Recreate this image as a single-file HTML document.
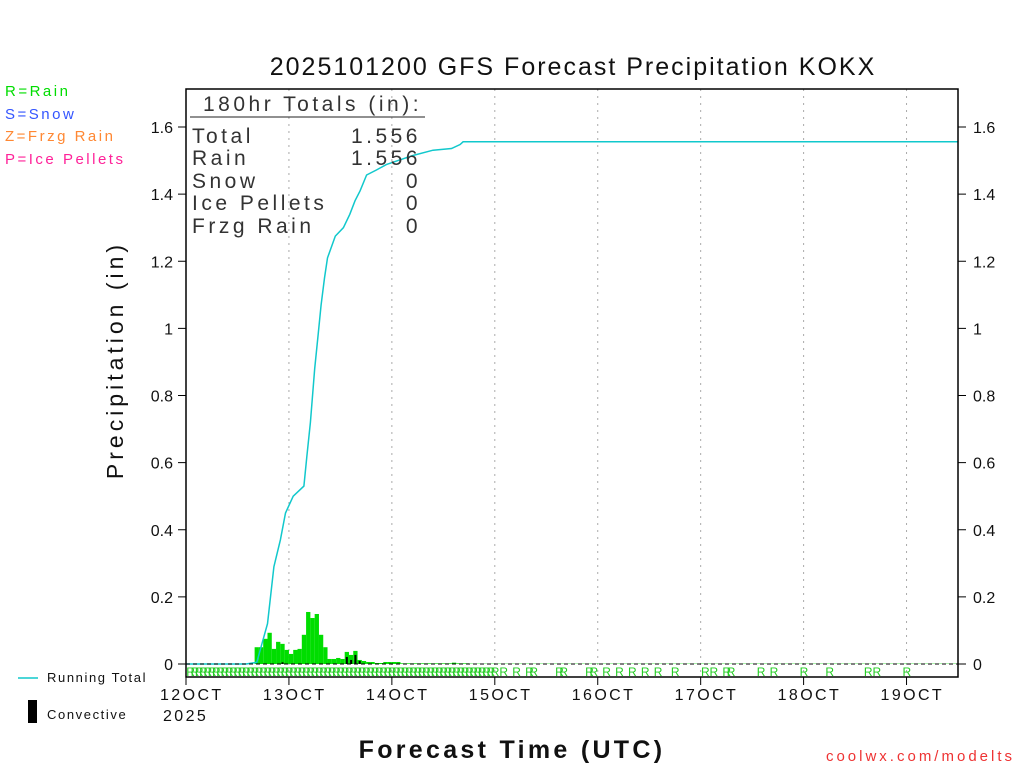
<!DOCTYPE html>
<html><head><meta charset="utf-8"><style>
body{margin:0;background:#fff;}
svg{display:block;font-family:"Liberation Sans",sans-serif;}
</style></head><body>
<svg id="chart" width="1024" height="768" viewBox="0 0 1024 768">
<text x="573" y="75" font-size="25" text-anchor="middle" fill="#111" letter-spacing="2">2025101200 GFS Forecast Precipitation KOKX</text>
<g font-size="15" letter-spacing="2.5">
<text x="5" y="96" fill="#00dd00">R=Rain</text>
<text x="5" y="119" fill="#3355ff">S=Snow</text>
<text x="5" y="141" fill="#ff8833">Z=Frzg Rain</text>
<text x="5" y="164" fill="#ff2299">P=Ice Pellets</text>
</g>
<g id="grid"></g>
<g id="bars"></g>
<g id="conv"></g>
<g id="marks"></g>
<path id="total" fill="none" stroke="#11c8cc" stroke-width="1.5"></path>
<rect x="186" y="89" width="772" height="588" fill="none" stroke="#000" stroke-width="1.5"/>
<line x1="186" y1="664" x2="958" y2="664" stroke="#000" stroke-dasharray="4,3"/>
<g font-size="21" fill="#333" letter-spacing="3.5">
<text x="203" y="111">180hr Totals (in):</text>
<line x1="190" y1="117" x2="425" y2="117" stroke="#222"/>
<text x="192" y="143">Total</text><text x="421" y="143" text-anchor="end">1.556</text>
<text x="192" y="165">Rain</text><text x="421" y="165" text-anchor="end">1.556</text>
<text x="192" y="188">Snow</text><text x="421" y="188" text-anchor="end">0</text>
<text x="192" y="210">Ice Pellets</text><text x="421" y="210" text-anchor="end">0</text>
<text x="192" y="233">Frzg Rain</text><text x="421" y="233" text-anchor="end">0</text>
</g>
<g id="yticks" font-size="16" fill="#111"></g>
<g id="xticks" font-size="16" fill="#111" letter-spacing="2.4"></g>
<text x="163" y="721" font-size="16" fill="#111" letter-spacing="2.4">2025</text>
<text transform="translate(123,360) rotate(-90)" font-size="23" text-anchor="middle" fill="#111" letter-spacing="4">Precipitation (in)</text>
<text x="512" y="758" font-size="25" text-anchor="middle" fill="#111" font-weight="bold" letter-spacing="3.3">Forecast Time (UTC)</text>
<text x="1015" y="761" font-size="15" text-anchor="end" fill="#ee3333" letter-spacing="3">coolwx.com/modelts</text>
<line x1="18" y1="678" x2="38" y2="678" stroke="#11c8cc" stroke-width="1.5"/>
<text x="47" y="682" font-size="13" fill="#111" letter-spacing="1.6">Running Total</text>
<rect x="28" y="700" width="9" height="23" fill="#000"/>
<text x="47" y="719" font-size="13" fill="#111" letter-spacing="1.6">Convective</text>
</svg>
<script>
const barHours=[17,18,19,20,21,22,23,24,25,26,27,28,29,30,31,32,33,34,35,36,37,38,39,40,41,42,43,44,45,46,47,48,49,50,51,52,53,54,55,56,57,58,59,60,61,62,63,64,65,66,67,68,69,70,71,72,73,74,75,76,77,78,79,80,81,82,83,84,85,86,87,88,89,90,91,92,93,94,95,96,99,102,105,108,111,114,117,120,123,126,129,132,135,138,141,144,147,150,153,156,159,162,165,168,171,174,177,180];
const barValues=[0.05,0.05,0.075,0.093,0.045,0.066,0.06,0.042,0.03,0.042,0.045,0.087,0.155,0.137,0.149,0.087,0.05,0.015,0.015,0.018,0.015,0.036,0.027,0.039,0.012,0.009,0.006,0.006,0.003,0.003,0.006,0.006,0.006,0.006,0.002,0.002,0.002,0.002,0.002,0.002,0.002,0.002,0.002,0.002,0.002,0.002,0.004,0.002,0.002,0.002,0.001,0.001,0.001,0.001,0.001,0.001,0.001,0.001,0.001,0.001,0.001,0.001,0.001,0.001,0.001,0.001,0.001,0.001,0.001,0.001,0.001,0.001,0.001,0.001,0.001,0.001,0.001,0.001,0.001,0.001,0.001,0.001,0.001,0.001,0.001,0.001,0.001,0.001,0.001,0.001,0.001,0.001,0.001,0.001,0.001,0.001,0.001,0.001,0.001,0.001,0.001,0.001,0.001,0.001,0.001,0.001,0.001,0.001];
const convHours=[23,38,39,40,41];
const convValues=[0.005,0.021,0.012,0.027,0.009];
const totalHours=[0,14,16.5,19,20.5,22,23.2,25,27.5,28.2,29,30,30.8,31.5,32.3,33,34.8,36.7,38.2,39.4,40.6,42.1,44.4,46.7,49.4,52.9,57.6,61.9,63.9,64.6,180];
const totalValues=[0,0,0.005,0.12,0.29,0.37,0.45,0.50,0.53,0.62,0.72,0.88,0.98,1.07,1.15,1.21,1.275,1.30,1.34,1.38,1.41,1.457,1.472,1.488,1.50,1.515,1.531,1.536,1.548,1.556,1.556];
const yTicks=[0,0.2,0.4,0.6,0.8,1,1.2,1.4,1.6];
const yTickLabels=["0","0.2","0.4","0.6","0.8","1","1.2","1.4","1.6"];
const xTickLabels=["12OCT","13OCT","14OCT","15OCT","16OCT","17OCT","18OCT","19OCT"];
const rainHours=[1,2,3,4,5,6,7,8,9,10,11,12,13,14,15,16,17,18,19,20,21,22,23,24,25,26,27,28,29,30,31,32,33,34,35,36,37,38,39,40,41,42,43,44,45,46,47,48,49,50,51,52,53,54,55,56,57,58,59,60,61,62,63,64,65,66,67,68,69,70,71,72,74,77,80,81,87,88,94,95,98,101,104,107,110,114,121,123,126,127,134,137,144,150,159,161,168];
const NS='http://www.w3.org/2000/svg';
const X=h=>186+h*(772/180);
const Y=v=>664-v*(537/1.6);
function mk(t,a,p){const e=document.createElementNS(NS,t);for(const k in a)e.setAttribute(k,a[k]);p.appendChild(e);return e;}
const grid=document.getElementById('grid');
for(let d=1;d<8;d++){const l=mk('line',{x1:X(d*24),x2:X(d*24),y1:89,y2:677,stroke:'#aaa','stroke-dasharray':'2,5'},grid);

}
const bars=document.getElementById('bars');
barHours.forEach((h,i)=>{const w=i>0?h-barHours[i-1]:1;const r=mk('rect',{x:X(h-w),y:Y(barValues[i]),width:X(h)-X(h-w),height:Y(0)-Y(barValues[i]),fill:'#00dd00'},bars);

});
const conv=document.getElementById('conv');
convHours.forEach((h,i)=>{const r=mk('rect',{x:X(h-0.5)-1,y:Y(convValues[i]),width:2,height:Y(0)-Y(convValues[i]),fill:'#000'},conv);

});
document.getElementById('total').setAttribute('d',totalHours.map((h,i)=>(i?'L':'M')+X(h).toFixed(1)+','+Y(totalValues[i]).toFixed(1)).join(''));
const marks=document.getElementById('marks');
rainHours.forEach(h=>{const t=mk('text',{x:X(h)-4,y:676,'font-size':12,fill:'#22cc22'},marks);t.textContent='R';

});
const yt=document.getElementById('yticks');
yTicks.forEach((v,i)=>{const y=Y(v);
mk('line',{x1:178,x2:186,y1:y,y2:y,stroke:'#000'},yt);mk('line',{x1:958,x2:966,y1:y,y2:y,stroke:'#000'},yt);
const a=mk('text',{x:173,y:y+6,'text-anchor':'end'},yt);a.textContent=yTickLabels[i];


const b=mk('text',{x:973,y:y+6},yt);b.textContent=yTickLabels[i];

});
const xt=document.getElementById('xticks');
xTickLabels.forEach((s,i)=>{const x=X(i*24);mk('line',{x1:x,x2:x,y1:677,y2:685,stroke:'#000'},xt);
const t=mk('text',{x:x-26,y:700},xt);t.textContent=s;

});
</script>
</body></html>
